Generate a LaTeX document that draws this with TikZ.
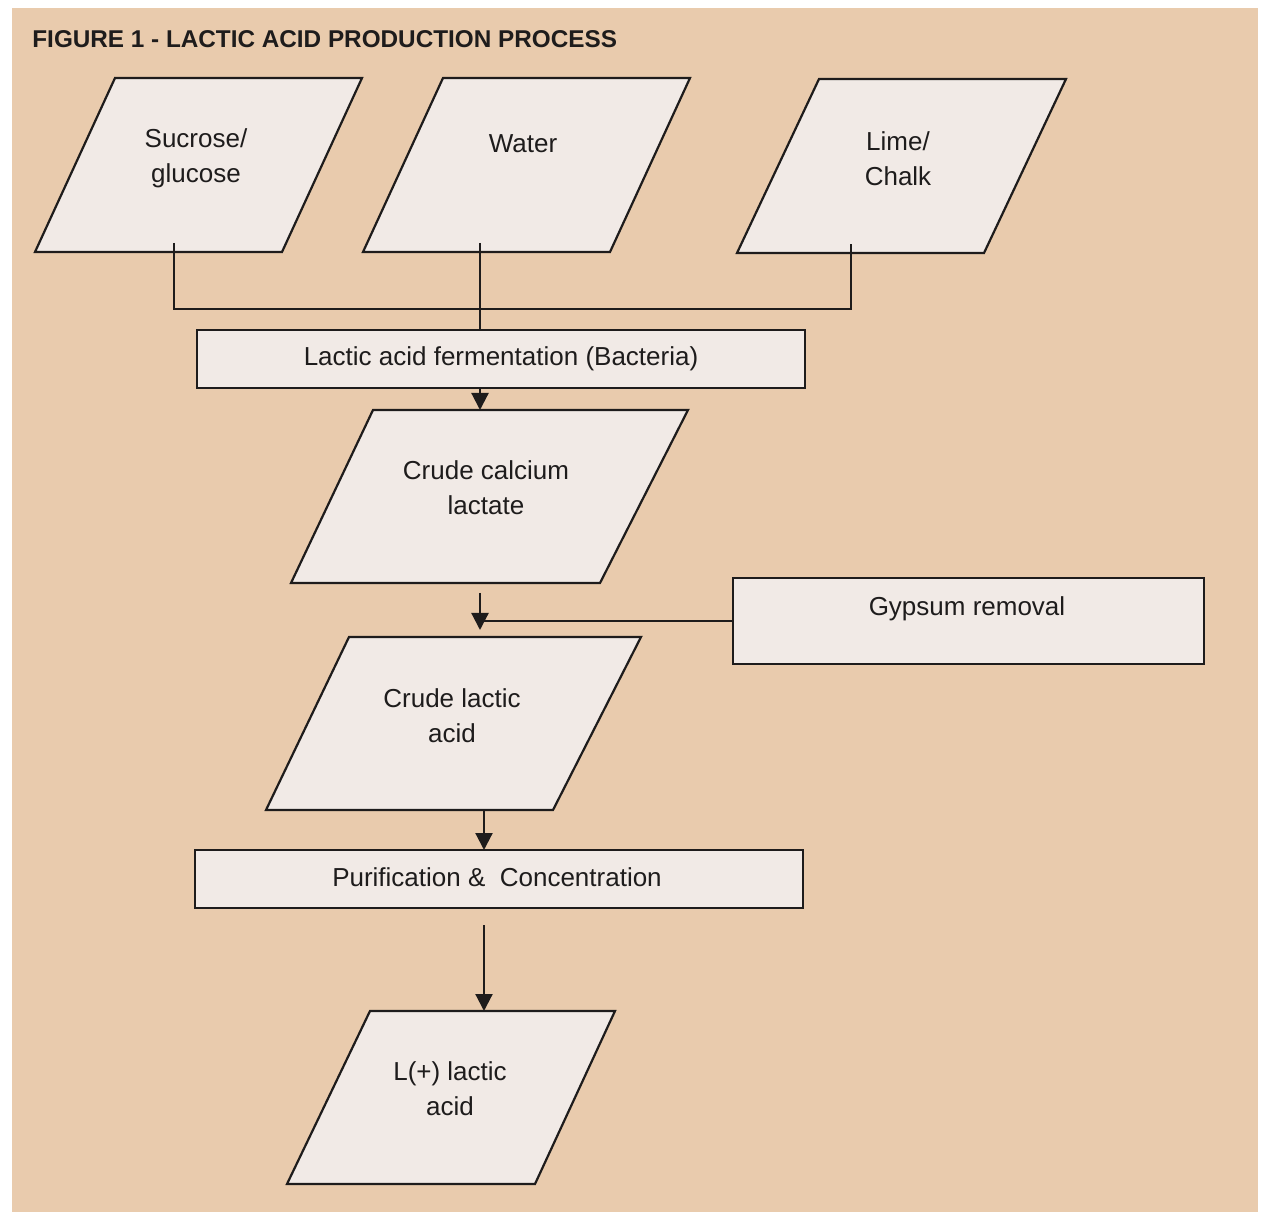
\documentclass[tikz,border=0pt]{standalone}
\usepackage{fontspec}
\setmainfont{Liberation Sans}
\usetikzlibrary{arrows.meta,calc}
\definecolor{bgtan}{RGB}{233,203,173}
\definecolor{boxfill}{RGB}{241,234,230}
\definecolor{ink}{RGB}{30,28,28}
\begin{document}
\begin{tikzpicture}[x=0.5pt,y=-0.5pt,
  pshape/.style={draw=ink, fill=boxfill, line width=1.1pt, line join=miter},
  rbox/.style={rectangle, draw=ink, fill=boxfill, line width=1.1pt, inner sep=0pt, outer sep=0pt,
    font=\fontsize{13}{17.5}\selectfont, text=ink},
  lbl/.style={font=\fontsize{13}{17.5}\selectfont, text=ink, align=center, inner sep=0pt},
  conn/.style={draw=ink, line width=1.1pt},
  arr/.style={conn, -{Triangle[width=8.5pt,length=8.5pt]}}]
% page and background
\fill[white] (0,0) rectangle (1263,1218);
\useasboundingbox (0,0) rectangle (1263,1218);
\fill[bgtan] (12,8) rectangle (1258,1212);

% title
\node[anchor=west, font=\bfseries\fontsize{12.15}{14}\selectfont, text=ink, inner sep=0pt] (title) at (32,39)
  {FIGURE 1 - LACTIC ACID PRODUCTION PROCESS};

% input parallelograms
\draw[pshape] (115,78) -- (362,78) -- (282,252) -- (35,252) -- cycle;
\node[lbl] (suc) at (196,158) {Sucrose/\\glucose};
\draw[pshape] (443,78) -- (690,78) -- (610,252) -- (363,252) -- cycle;
\node[lbl] (wat) at (523,144) {Water};
\draw[pshape] (819,79) -- (1066,79) -- (984,253) -- (737,253) -- cycle;
\node[lbl] (lim) at (898,158.5) {Lime/\\Chalk};

% fermentation
\node[rbox, minimum width=304pt, minimum height=29pt] (ferm) at (501,359) {Lactic acid fermentation (Bacteria)};

% crude calcium lactate
\draw[pshape] (373,410) -- (688,410) -- (600,583) -- (291,583) -- cycle;
\node[lbl] (cal) at (486,488) {Crude calcium\\lactate};

% gypsum removal
\node[rbox, minimum width=235.5pt, minimum height=43pt] (gyp) at (968.5,621) {};
\node[lbl] (gypt) at (967,609) {Gypsum removal};

% crude lactic acid
\draw[pshape] (349,637) -- (641,637) -- (553,810) -- (266,810) -- cycle;
\node[lbl] (lac) at (452,715.5) {Crude lactic\\acid};

% purification
\node[rbox, minimum width=304pt, minimum height=29pt] (pur) at (499,879) {};
\node[lbl] (purt) at (497,877) {Purification \&\ \ Concentration};

% L(+) lactic acid
\draw[pshape] (370,1011) -- (615,1011) -- (535,1184) -- (287,1184) -- cycle;
\node[lbl] (lpl) at (450,1089) {L(+) lactic\\acid};

% connector points
\coordinate (sucB) at (174,243);
\coordinate (watB) at (480,243);
\coordinate (limB) at (851,244);
\coordinate (j1) at (174,309);
\coordinate (jw) at (480,309);
\coordinate (j3) at (851,309);
\coordinate (calT) at (480,410);
\coordinate (g0) at (480,593);
\coordinate (g1) at (480,630);
\coordinate (lacB) at (484,810);
\coordinate (p0) at (484,925);
\coordinate (lplT) at (484,1011);

% connectors
\draw[conn] (sucB) -- (j1) -- (j3) -- (limB);
\draw[conn] (watB) -- (jw |- ferm.north);
\draw[arr] (jw |- ferm.south) -- (calT);
\draw[conn] (gyp.west) -- (g0 |- gyp.west);
\draw[arr] (g0) -- (g1);
\draw[arr] (lacB) -- (lacB |- pur.north);
\draw[arr] (p0) -- (lplT);
\end{tikzpicture}
\end{document}
